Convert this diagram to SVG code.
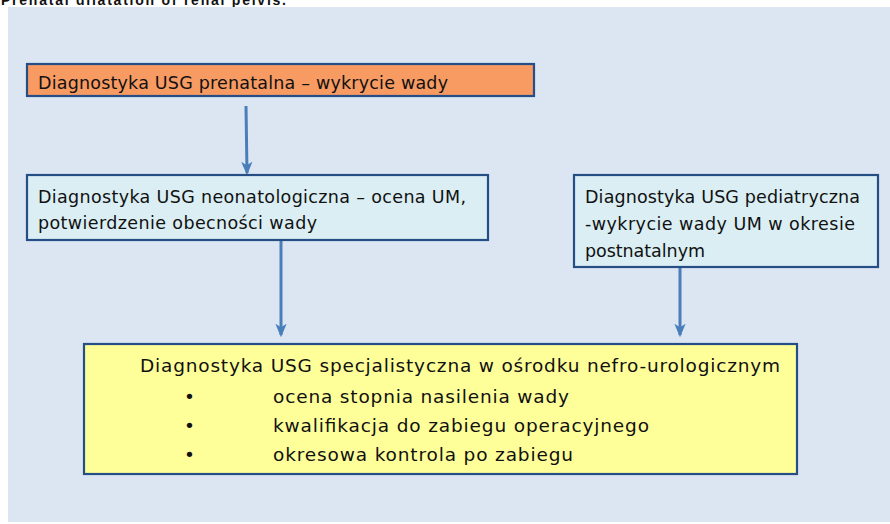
<svg xmlns="http://www.w3.org/2000/svg" width="890" height="524" viewBox="0 0 890 524">
  <style>
    .box { stroke: #264E86; stroke-width: 2.2; }
    .t { font-family: "DejaVu Sans", Verdana, sans-serif; fill: #111; }
    .conn { stroke: #4A7EBB; stroke-width: 3; fill: none; }
  </style>
  <defs>
    <marker id="arr" viewBox="0 0 12 12" refX="10" refY="6" markerWidth="4.5" markerHeight="4.5" orient="auto" markerUnits="strokeWidth">
      <path d="M0,1 L12,6 L0,11 L3,6 Z" fill="#4A7EBB"/>
    </marker>
  </defs>

  <rect width="890" height="524" fill="#FFFFFF"/>
  <!-- heading, clipped by the top edge -->
  <text x="1" y="5" font-family="Liberation Sans, Arial, sans-serif" font-weight="bold" font-size="14" textLength="285" fill="#111">Prenatal dilatation of renal pelvis.</text>
  <!-- panel -->
  <rect x="8" y="7" width="882" height="515" fill="#DCE6F2"/>

  <g id="connectors">
    <path class="conn" d="M246,106 L247,173" marker-end="url(#arr)"/>
    <path class="conn" d="M281,241 L281,335" marker-end="url(#arr)"/>
    <path class="conn" d="M680,268 L680,335" marker-end="url(#arr)"/>
  </g>

  <g id="prenatal">
    <rect class="box" x="27" y="64" width="507" height="32" fill="#F79B63"/>
    <text class="t" x="38" y="89" font-size="17.5" textLength="410">Diagnostyka USG prenatalna – wykrycie wady</text>
  </g>

  <g id="neonatal">
    <rect class="box" x="27" y="175" width="461" height="65" fill="#DAEEF3"/>
    <text class="t" x="38" y="203" font-size="17.5" textLength="428">Diagnostyka USG neonatologiczna – ocena UM,</text>
    <text class="t" x="38" y="229" font-size="17.5" textLength="279">potwierdzenie obecności wady</text>
  </g>

  <g id="pediatric">
    <rect class="box" x="574" y="175" width="304" height="92" fill="#DAEEF3"/>
    <text class="t" x="585" y="203" font-size="17.5" textLength="275">Diagnostyka USG pediatryczna</text>
    <text class="t" x="585" y="230" font-size="17.5" textLength="270">-wykrycie wady UM w okresie</text>
    <text class="t" x="585" y="257" font-size="17.5" textLength="120">postnatalnym</text>
  </g>

  <g id="specialist">
    <rect class="box" x="84" y="344" width="713" height="130" fill="#FFFF99"/>
    <text class="t" x="140" y="372" font-size="18.5" textLength="640">Diagnostyka USG specjalistyczna w ośrodku nefro-urologicznym</text>
    <text class="t" x="184" y="403" font-size="18.5">•</text>
    <text class="t" x="273" y="403" font-size="18.5" textLength="296">ocena stopnia nasilenia wady</text>
    <text class="t" x="184" y="432" font-size="18.5">•</text>
    <text class="t" x="273" y="432" font-size="18.5" textLength="376">kwalifikacja do zabiegu operacyjnego</text>
    <text class="t" x="184" y="461" font-size="18.5">•</text>
    <text class="t" x="273" y="461" font-size="18.5" textLength="300">okresowa kontrola po zabiegu</text>
  </g>
</svg>
